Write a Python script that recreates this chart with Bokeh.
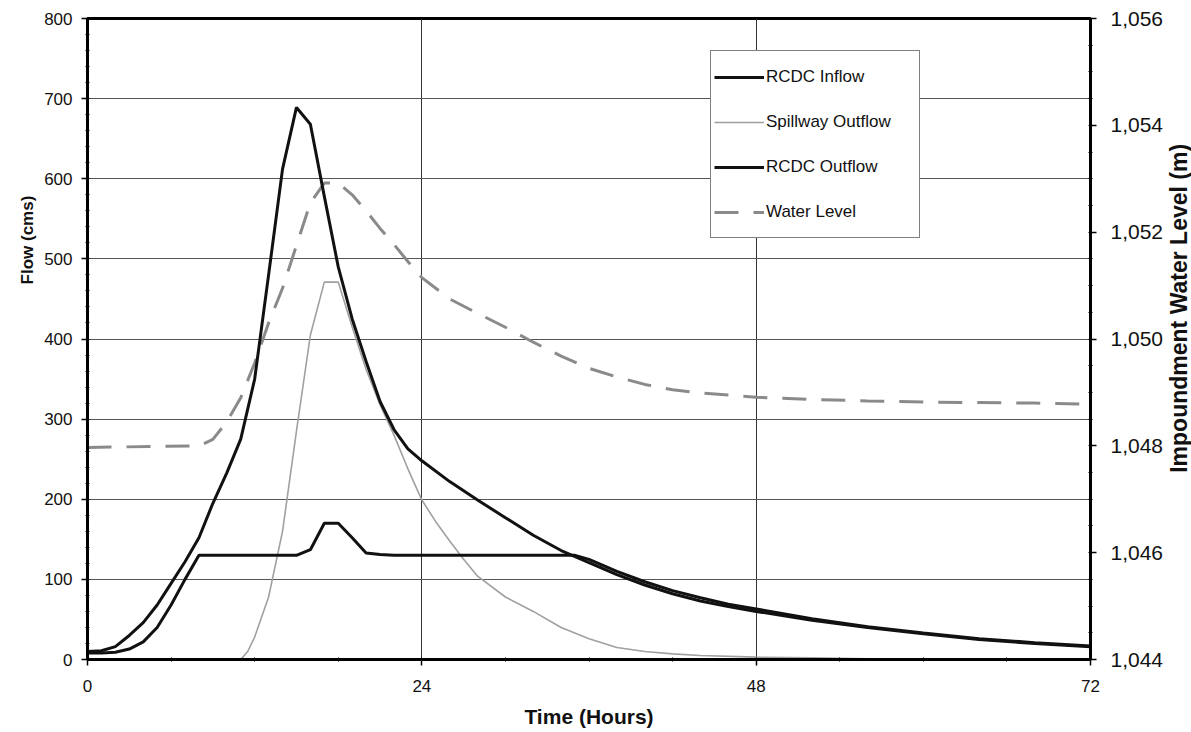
import math
from bokeh.plotting import figure
from bokeh.layouts import row
from bokeh.models import Range1d, LinearAxis, FixedTicker, NumeralTickFormatter, Label
from bokeh.embed import file_html
from bokeh.resources import INLINE

# ---- data ----
inflow_hours = [0, 1, 2, 3, 4, 5, 6, 7, 8, 9, 10, 11, 12, 13, 14, 15, 16, 17, 18, 19, 20,
                21, 22, 23, 24, 26, 28, 30, 32, 34, 36, 38, 40, 42, 44, 46, 48, 52, 56, 60,
                64, 68, 72]
inflow = [10, 11, 16, 30, 46, 68, 95, 122, 152, 195, 233, 275, 350, 480, 612, 689, 668, 578,
          490, 425, 372, 322, 287, 263, 248, 222, 199, 177, 155, 136, 121, 106, 93, 82, 73,
          66, 60, 49, 40, 32, 25, 20, 16]

spill_hours = [0, 11, 11.5, 12, 13, 14, 15, 16, 17, 18, 19, 20, 21, 22, 23, 24, 25, 26, 27,
               28, 30, 32, 34, 36, 38, 40, 42, 44, 48, 52, 56, 60, 72]
spillway = [0, 0, 10, 28, 78, 160, 285, 405, 471, 471, 415, 362, 318, 280, 238, 199, 172,
            148, 125, 104, 78, 60, 40, 26, 15, 10, 7, 5, 3, 2, 1, 1, 0]

out_hours = [0, 1, 2, 3, 4, 5, 6, 7, 8, 15, 16, 17, 18, 19, 20, 21, 22, 35, 36, 38, 40, 42,
             44, 46, 48, 52, 56, 60, 64, 68, 72]
outflow = [8, 8, 9, 13, 22, 40, 68, 100, 130, 130, 137, 170, 170, 152, 133, 131, 130, 130,
           125, 110, 97, 86, 77, 69, 63, 51, 41, 33, 26, 21, 17]

wl_hours = [0, 8, 9, 10, 11, 12, 13, 14, 15, 16, 17, 18, 19, 20, 21, 22, 23, 24, 26, 28, 30,
            32, 34, 36, 38, 40, 42, 44, 46, 48, 52, 56, 60, 64, 68, 72]
water_level = [1047.97, 1048.0, 1048.12, 1048.45, 1048.9, 1049.55, 1050.3, 1050.95, 1051.75,
               1052.55, 1052.92, 1052.92, 1052.7, 1052.4, 1052.07, 1051.77, 1051.45, 1051.15,
               1050.75, 1050.48, 1050.22, 1049.94, 1049.68, 1049.45, 1049.29, 1049.15,
               1049.05, 1048.99, 1048.95, 1048.91, 1048.87, 1048.84, 1048.82, 1048.81,
               1048.8, 1048.78]

x_ticks = [0, 24, 48, 72]
y_ticks = list(range(0, 801, 100))
wl_ticks = [1044, 1046, 1048, 1050, 1052, 1054, 1056]

x_title = "Time (Hours)"
y_title = "Flow (cms)"
wl_title = "Impoundment Water Level (m)"

FONT = "Liberation Sans"
H = 732
LEFT_W = 40
RIGHT_W = 25
MAIN_W = 1191 - LEFT_W - RIGHT_W

p = figure(width=MAIN_W, height=H, x_range=Range1d(0, 72), y_range=Range1d(0, 800),
           output_backend="svg", toolbar_location=None,
           min_border_left=87 - LEFT_W, min_border_right=MAIN_W - (1092 - LEFT_W),
           min_border_top=18, min_border_bottom=73)
p.extra_y_ranges = {"wl": Range1d(1044, 1056)}

p.outline_line_color = "black"
p.outline_line_width = 3
p.background_fill_color = "white"

# axes
p.xaxis.ticker = FixedTicker(ticks=x_ticks, minor_ticks=list(range(0, 73, 6)))
p.yaxis.ticker = FixedTicker(ticks=y_ticks, minor_ticks=list(range(0, 801, 20)))
p.xaxis.axis_label = x_title

right = LinearAxis(y_range_name="wl",
                   ticker=FixedTicker(ticks=wl_ticks,
                                      minor_ticks=[1044 + 0.5 * i for i in range(25)]),
                   formatter=NumeralTickFormatter(format="0,0"))
p.add_layout(right, "right")

for ax in p.xaxis + p.yaxis + [right]:
    ax.axis_line_color = "black"
    ax.axis_line_width = 3
    ax.major_tick_line_color = "black"
    ax.major_tick_line_width = 1.5
    ax.major_tick_out = 6
    ax.major_tick_in = 0
    ax.minor_tick_line_color = "black"
    ax.minor_tick_line_width = 1
    ax.minor_tick_out = 2
    ax.minor_tick_in = 2
    ax.major_label_text_font = FONT
    ax.major_label_text_color = "#111111"
    ax.axis_label_text_font = FONT
    ax.axis_label_text_font_style = "bold"
    ax.axis_label_text_color = "#111111"

p.xaxis.major_label_text_font_size = "17px"
p.xaxis.major_label_standoff = 14
p.xaxis.axis_label_text_font_size = "21px"
p.xaxis.axis_label_standoff = 10
p.yaxis.major_label_text_font_size = "17px"
p.yaxis.major_label_standoff = 9
right.major_label_text_font_size = "21px"
right.major_label_standoff = 14

p.xgrid.grid_line_color = "#333333"
p.xgrid.grid_line_width = 1
p.ygrid.grid_line_color = "#555555"
p.ygrid.grid_line_width = 1

# series
p.line(wl_hours, water_level, y_range_name="wl", line_color="#8a8a8a", line_width=3,
       line_dash="24 15", legend_label="Water Level")
p.line(spill_hours, spillway, line_color="#a0a0a0", line_width=1.6,
       legend_label="Spillway Outflow")
p.line(out_hours, outflow, line_color="#111111", line_width=3, legend_label="RCDC Outflow")
p.line(inflow_hours, inflow, line_color="#111111", line_width=3, legend_label="RCDC Inflow")

# legend order: inflow, spillway, outflow, water level
leg = p.legend[0]
items = list(leg.items)
order = ["RCDC Inflow", "Spillway Outflow", "RCDC Outflow", "Water Level"]
leg.items = sorted(items, key=lambda it: order.index(it.label["value"]))
leg.location = (623, 421)
leg.padding = 3
leg.spacing = 0
leg.margin = 0
leg.label_height = 45
leg.glyph_height = 20
leg.glyph_width = 50
leg.label_standoff = 2
leg.label_width = 150
leg.border_line_color = "black"
leg.border_line_width = 1
leg.background_fill_color = "white"
leg.background_fill_alpha = 1
leg.label_text_font = FONT
leg.label_text_font_size = "17px"
leg.label_text_color = "#111111"


def title_strip(width, text, cx, cy, size):
    """A narrow figure that only carries one rotated axis title."""
    f = figure(width=width, height=H, x_range=Range1d(0, width), y_range=Range1d(0, H),
               output_backend="svg", toolbar_location=None, min_border=0,
               x_axis_location=None, y_axis_location=None)
    f.grid.visible = False
    f.outline_line_color = None
    f.add_layout(Label(x=cx, y=H - cy, text=text, angle=math.pi / 2,
                       text_font=FONT, text_font_style="bold", text_font_size=size,
                       text_color="#111111", text_align="center",
                       text_baseline="middle"))
    return f


left_strip = title_strip(LEFT_W, y_title, 27, 253, "17px")
right_strip = title_strip(RIGHT_W, wl_title, 12, 331, "23px")

layout = row(left_strip, p, right_strip, spacing=0)

open("out.html", "w").write(file_html(layout, INLINE))
